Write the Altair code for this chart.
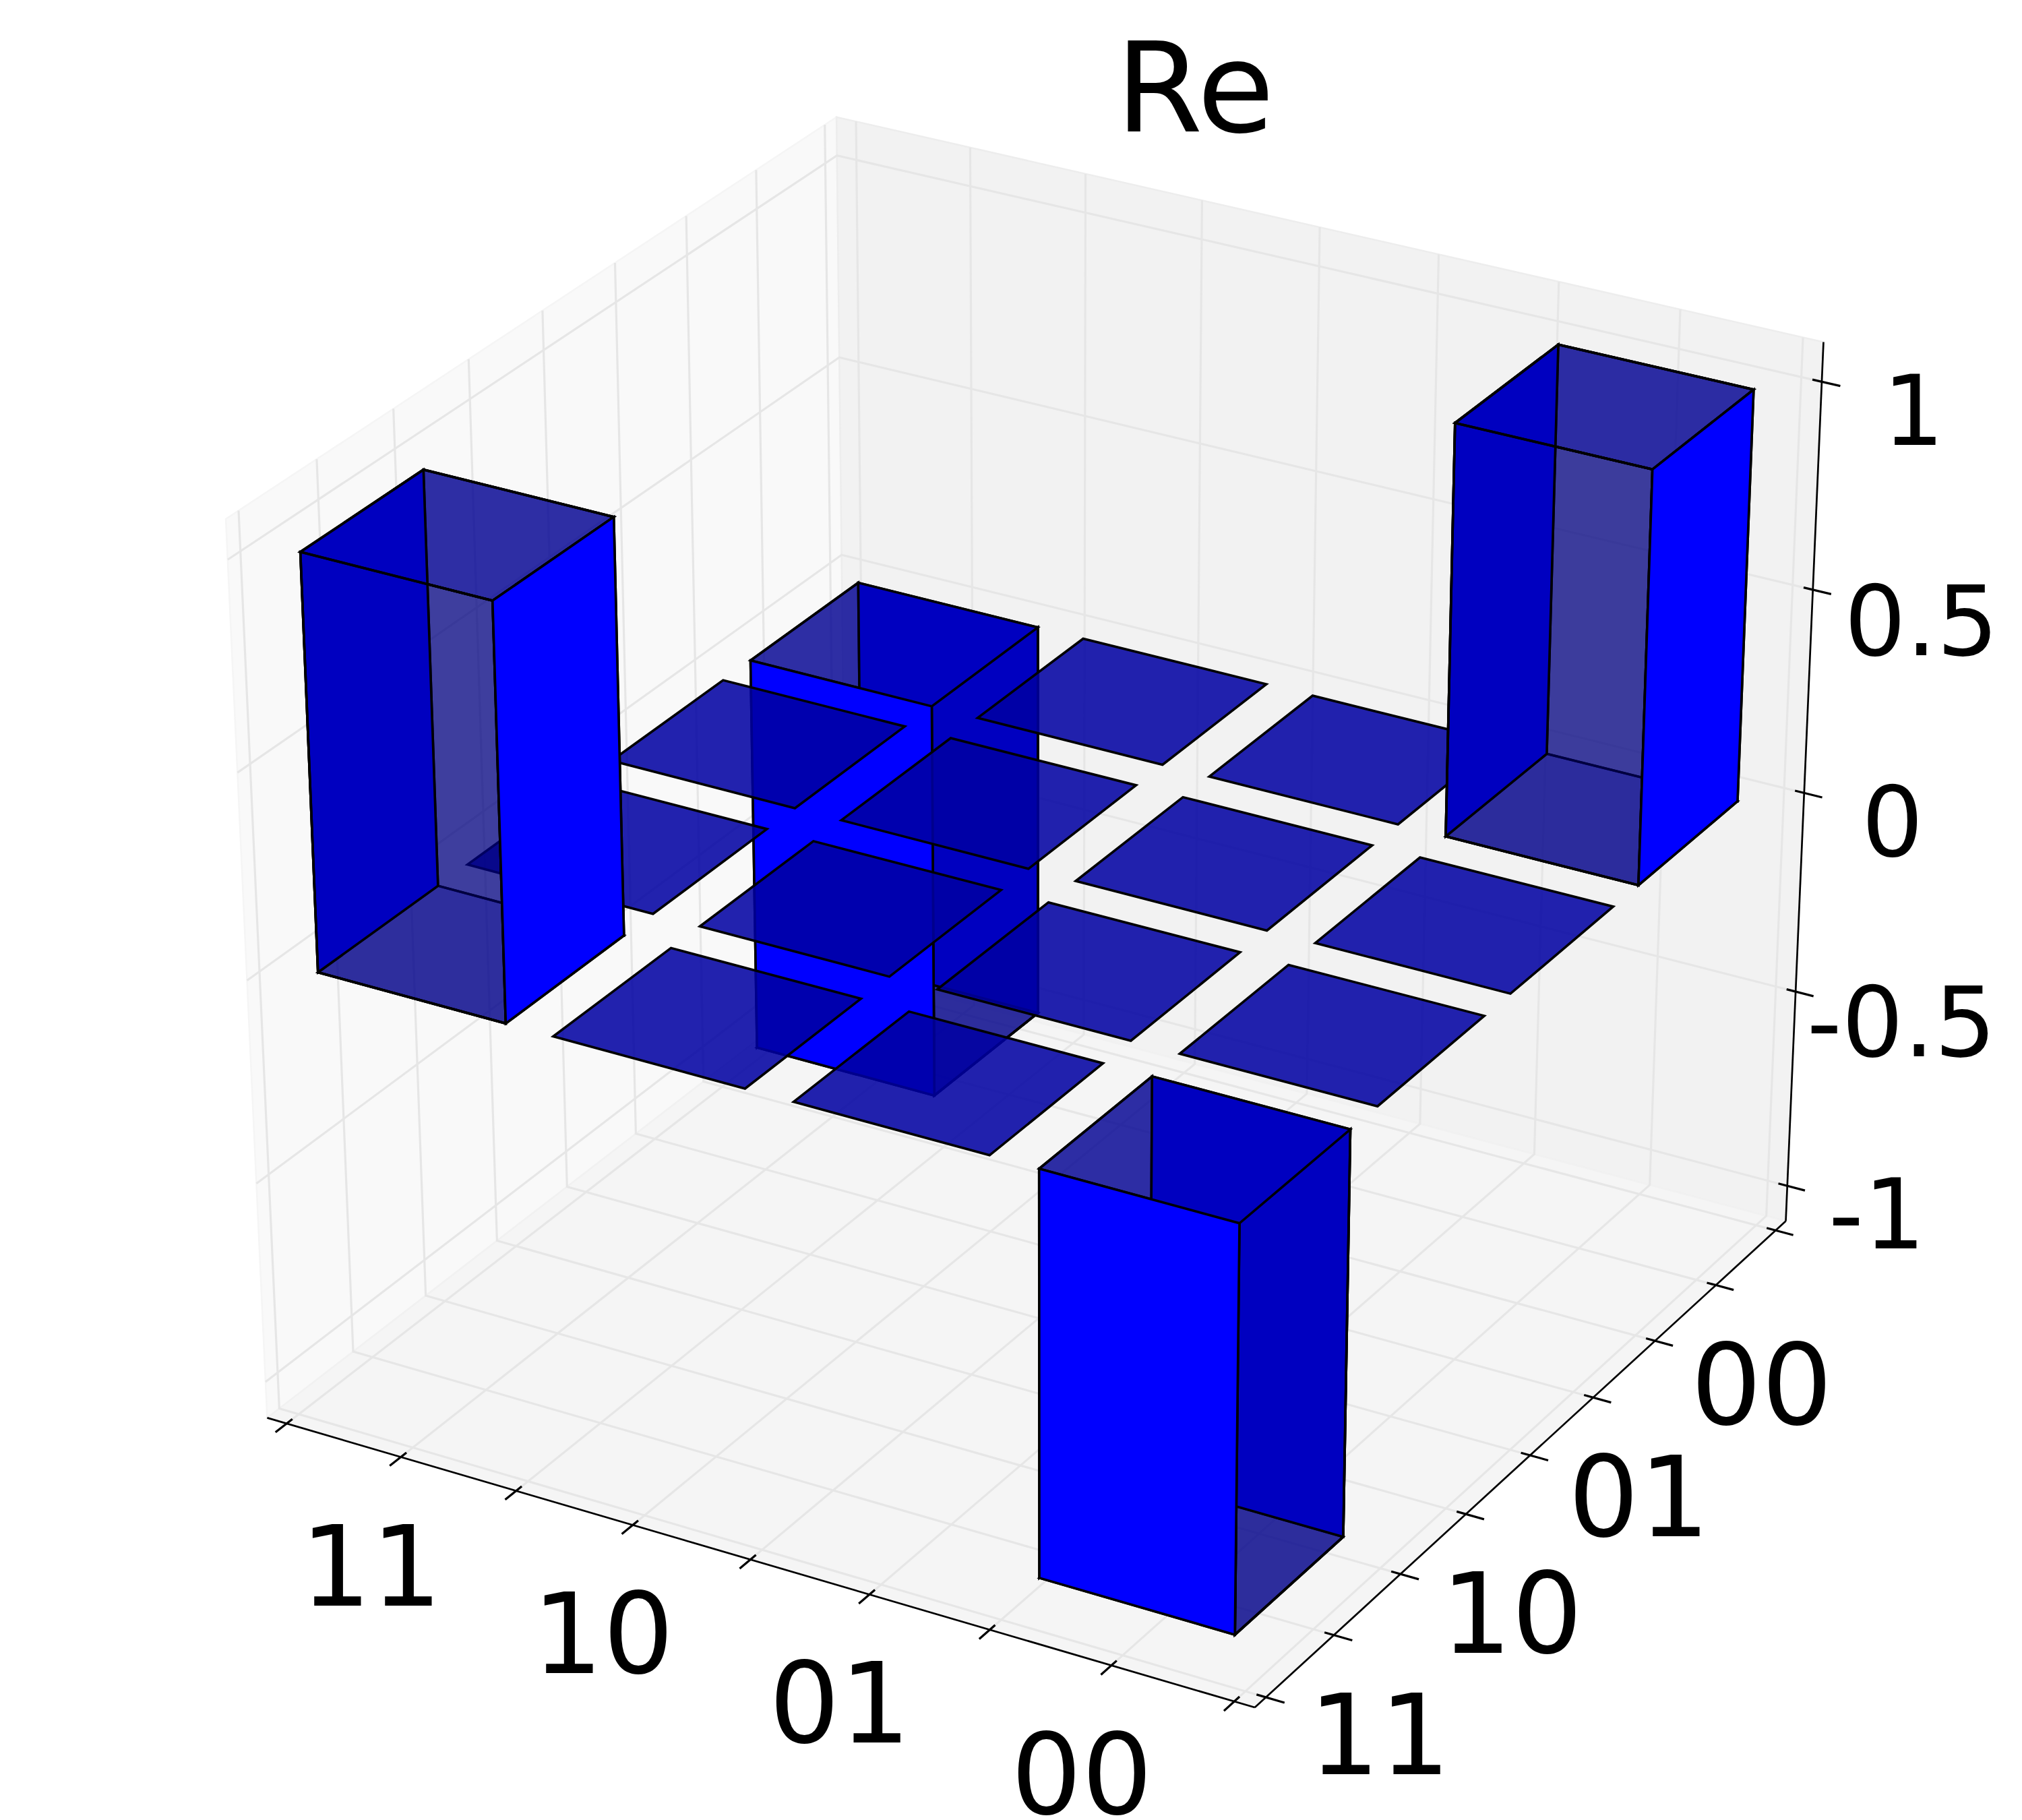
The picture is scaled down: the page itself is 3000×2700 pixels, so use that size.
import altair as alt
import numpy as np

# ---- data -------------------------------------------------------------
values = [[1, 0, 0, -1],
          [0, 0, 0, 0],
          [0, 0, 0, 0],
          [-1, 0, 0, 1]]                 # row: x index, column: y index
draw_order = [(0, 3), (0, 1), (0, 2), (1, 0), (1, 1), (1, 2), (1, 3), (2, 0), (2, 1),
              (2, 2), (2, 3), (3, 1), (3, 2), (0, 0), (3, 3), (3, 0)]
bar_start = -0.5
bar_width = 0.8
x_ticks = [-0.6, -0.1, 0.4, 0.9, 1.4, 1.9, 2.4, 2.9, 3.4]
y_ticks = [-0.6, -0.1, 0.4, 0.9, 1.4, 1.9, 2.4, 2.9, 3.4]
z_ticks = [-1, -0.5, 0, 0.5, 1]
x_labels = {-0.1: "11", 0.9: "10", 1.9: "01", 2.9: "00"}
y_labels = {-0.1: "11", 0.9: "10", 1.9: "01", 2.9: "00"}
z_labels = {-1: "-1", -0.5: "-0.5", 0: "0", 0.5: "0.5", 1: "1"}
z_label_dx = {-1: 133, -0.5: 157, 0: 131, 0.5: 161, 1: 136}
z_label_dy = {-1: 93, -0.5: 96, 0: 94, 0.5: 97, 1: 94}
title = "Re"

# ---- camera and box of the 3-D view -------------------------------------
CAMERA = np.array([[338.9373494, 233.719573, -36.5283314, 756.230635],
                   [78.4112414, -135.4256065, -640.3739786, 1408.2011225],
                   [-0.0105574, 0.0185563, -0.0234663, 1.0]])
XMIN, XMAX = -0.686, 3.483
YMIN, YMAX = -0.681, 3.486
ZMIN, ZMAX = -1.092, 1.094
TICK_OUT, TICK_IN = 0.075, 0.038


def pr(p):
    h = CAMERA @ np.array([p[0], p[1], p[2], 1.0])
    return [float(h[0] / h[2]), float(h[1] / h[2])]


def poly(pts, fill, fo, stroke="black"):
    ring = [pr(p) for p in pts]
    ring.append(ring[0])
    return {"type": "Feature", "geometry": {"type": "Polygon", "coordinates": [ring]},
            "properties": {"fill": fill, "fo": fo, "stroke": stroke}}


def line(*pts):
    return {"type": "Feature", "geometry": {"type": "LineString", "coordinates": [pr(p) for p in pts]},
            "properties": {}}


PROJ = dict(type="identity", scale=1, translate=[-8, -8])


def polys(feats, sw):
    return (alt.Chart(alt.Data(values=feats)).mark_geoshape(strokeWidth=sw)
            .encode(fill=alt.Fill("properties.fill:N", scale=None),
                    fillOpacity=alt.FillOpacity("properties.fo:Q", scale=None),
                    stroke=alt.Stroke("properties.stroke:N", scale=None))
            .project(**PROJ))


def lines(feats, color, sw):
    return (alt.Chart(alt.Data(values=feats))
            .mark_geoshape(filled=False, stroke=color, strokeWidth=sw).project(**PROJ))


# ---- panes, grid, axes --------------------------------------------------
panes = [
    poly([(XMIN, YMIN, ZMIN), (XMIN, YMAX, ZMIN), (XMIN, YMAX, ZMAX), (XMIN, YMIN, ZMAX)], "#f9f9f9", 1, "#f5f5f5"),
    poly([(XMIN, YMAX, ZMIN), (XMAX, YMAX, ZMIN), (XMAX, YMAX, ZMAX), (XMIN, YMAX, ZMAX)], "#f2f2f2", 1, "#ededed"),
    poly([(XMIN, YMIN, ZMIN), (XMAX, YMIN, ZMIN), (XMAX, YMAX, ZMIN), (XMIN, YMAX, ZMIN)], "#f5f5f5", 1, "#f1f1f1"),
]
grid = []
for t in x_ticks:
    grid.append(line((t, YMIN, ZMIN), (t, YMAX, ZMIN), (t, YMAX, ZMAX)))
for t in y_ticks:
    grid.append(line((XMAX, t, ZMIN), (XMIN, t, ZMIN), (XMIN, t, ZMAX)))
for t in z_ticks:
    grid.append(line((XMAX, YMAX, t), (XMIN, YMAX, t), (XMIN, YMIN, t)))

axes = [line((XMIN, YMIN, ZMIN), (XMAX, YMIN, ZMIN)),
        line((XMAX, YMIN, ZMIN), (XMAX, YMAX, ZMIN)),
        line((XMAX, YMAX, ZMIN), (XMAX, YMAX, ZMAX))]
ticks = []
for t in x_ticks:
    ticks.append(line((t, YMIN - TICK_OUT, ZMIN), (t, YMIN + TICK_IN, ZMIN)))
for t in y_ticks:
    ticks.append(line((XMAX + TICK_OUT, t, ZMIN), (XMAX - TICK_IN, t, ZMIN)))
for t in z_ticks:
    ticks.append(line((XMAX + TICK_OUT, YMAX, t), (XMAX - TICK_IN, YMAX, t)))

# ---- bars ---------------------------------------------------------------
BRIGHT, DARK = "#0000ff", "#0000c0"
SIDE, CAP, FLAT = "#000080", "#000096", "#0000a2"
side_a, cap_a, flat_a = 0.5, 0.63, 0.865


def bar(i, j, v):
    x0, x1 = i + bar_start, i + bar_start + bar_width
    y0, y1 = j + bar_start, j + bar_start + bar_width
    if v == 0:
        return [poly([(x0, y0, 0), (x1, y0, 0), (x1, y1, 0), (x0, y1, 0)], FLAT, flat_a)]
    z0, z1 = min(0, v), max(0, v)
    xlo = [(x0, y0, z0), (x0, y1, z0), (x0, y1, z1), (x0, y0, z1)]
    xhi = [(x1, y0, z0), (x1, y1, z0), (x1, y1, z1), (x1, y0, z1)]
    ylo = [(x0, y0, z0), (x1, y0, z0), (x1, y0, z1), (x0, y0, z1)]
    yhi = [(x0, y1, z0), (x1, y1, z0), (x1, y1, z1), (x0, y1, z1)]
    bot = [(x0, y0, z0), (x1, y0, z0), (x1, y1, z0), (x0, y1, z0)]
    top = [(x0, y0, z1), (x1, y0, z1), (x1, y1, z1), (x0, y1, z1)]
    if v > 0:
        return [poly(yhi, SIDE, side_a), poly(bot, CAP, cap_a), poly(top, CAP, cap_a),
                poly(ylo, SIDE, side_a), poly(xlo, DARK, 1),
                poly(ylo, SIDE, 0), poly(top, CAP, 0), poly(xhi, BRIGHT, 1)]
    return [poly(xlo, SIDE, side_a), poly(bot, CAP, cap_a), poly(top, CAP, cap_a),
            poly(xhi, SIDE, side_a), poly(yhi, DARK, 1),
            poly(xhi, SIDE, 0), poly(ylo, BRIGHT, 1)]


faces = []
for i, j in draw_order:
    faces += bar(i, j, values[i][j])

# ---- text ---------------------------------------------------------------
texts_small, texts_big = [], []
for t, s in x_labels.items():
    u, v = pr((t, YMIN, ZMIN))
    texts_big.append({"x": u - 44 - 8, "y": v + 220 - 8, "t": s})
for t, s in y_labels.items():
    u, v = pr((XMAX, t, ZMIN))
    texts_big.append({"x": u + 68 - 8, "y": v + 206 - 8, "t": s})
for t, s in z_labels.items():
    u, v = pr((XMAX, YMAX, t))
    texts_small.append({"x": u + z_label_dx[t] - 8, "y": v + z_label_dy[t] - 8, "t": s})


def text(rows, size):
    return (alt.Chart(alt.Data(values=rows))
            .mark_text(font="DejaVu Sans", fontSize=size, baseline="alphabetic", align="center", color="black")
            .encode(x=alt.X("x:Q", scale=None, axis=None), y=alt.Y("y:Q", scale=None, axis=None), text="t:N"))


chart = alt.layer(
    polys(panes, 2.5),
    lines(grid, "#e6e6e6", 3.2),
    lines(axes, "black", 2.7),
    lines(ticks, "black", 3.2),
    polys(faces, 3.6),
    text(texts_big, 165),
    text(texts_small, 144),
    text([{"x": 1773 - 8, "y": 194.7 - 8, "t": title}], 186),
).properties(width=2984, height=2684, padding=0, background="white").configure_view(stroke=None)

chart.save("out.html", embed_options={"renderer": "svg", "actions": False})
